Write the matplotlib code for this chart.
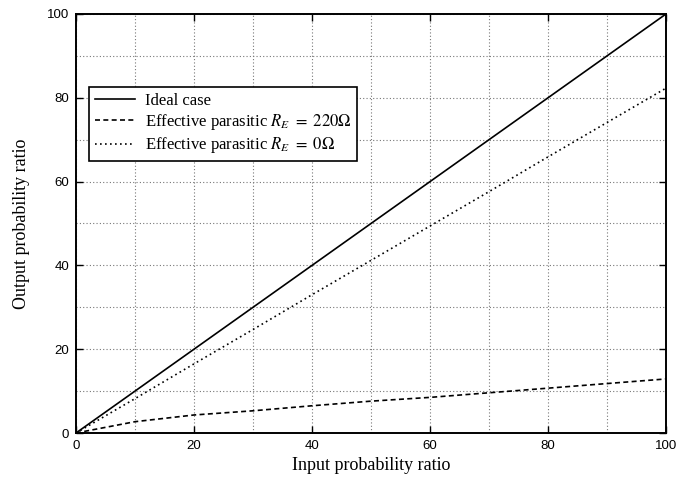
import matplotlib
matplotlib.use('Agg')
import matplotlib.pyplot as plt
from matplotlib.ticker import MultipleLocator

# values
x = [0, 10, 20, 30, 40, 50, 60, 70, 80, 90, 100]
ideal = [0, 10, 20, 30, 40, 50, 60, 70, 80, 90, 100]
re_220 = [0, 2.7, 4.3, 5.3, 6.5, 7.6, 8.5, 9.6, 10.7, 11.8, 12.9]
re_0 = [0, 8.2, 16.5, 24.7, 33.0, 41.2, 49.4, 57.6, 65.9, 74.1, 82.3]

labels = ['Ideal case',
          r'Effective parasitic $R_E\ =\ 220\Omega$',
          r'Effective parasitic $R_E\ =\ 0\Omega$']

plt.rcParams['mathtext.fontset'] = 'stix'

fig = plt.figure(figsize=(6.93, 4.78), dpi=100)
ax = fig.add_axes([76/693, 1-433/478, 590/693, 419/478])

ax.plot(x, ideal, color='k', lw=1.2, label=labels[0])
ax.plot(x, re_220, color='k', lw=1.2, dashes=(3, 2), label=labels[1])
ax.plot(x, re_0, color='k', lw=1.2, dashes=(1, 2), label=labels[2])

ax.set_xlim(0, 100)
ax.set_ylim(0, 100)
ax.xaxis.set_major_locator(MultipleLocator(20))
ax.yaxis.set_major_locator(MultipleLocator(20))
ax.xaxis.set_minor_locator(MultipleLocator(10))
ax.yaxis.set_minor_locator(MultipleLocator(10))
ax.grid(which='both', color='#777777', linestyle=(0, (1, 2)), lw=0.8)
ax.tick_params(which='major', direction='in', length=5, width=1,
               top=True, right=True, labelsize=9.5, pad=5)
ax.tick_params(which='minor', length=0)
for lab in ax.get_xticklabels() + ax.get_yticklabels():
    lab.set_fontfamily('Liberation Sans')
for s in ax.spines.values():
    s.set_linewidth(1.4)

ax.set_xlabel('Input probability ratio', family='Liberation Serif', fontsize=13, labelpad=4)
ax.set_ylabel('Output probability ratio', family='Liberation Serif', fontsize=13, labelpad=12)

leg = ax.legend(loc='upper left', bbox_to_anchor=(0.022, 0.826),
                prop={'family': 'Liberation Serif', 'size': 12},
                frameon=True, fancybox=False, framealpha=1, edgecolor='k',
                borderpad=0.35, handlelength=2.4, handletextpad=0.6, labelspacing=0.2,
                borderaxespad=0)
leg.get_frame().set_linewidth(1.2)

fig.savefig('out.png', dpi=100)
